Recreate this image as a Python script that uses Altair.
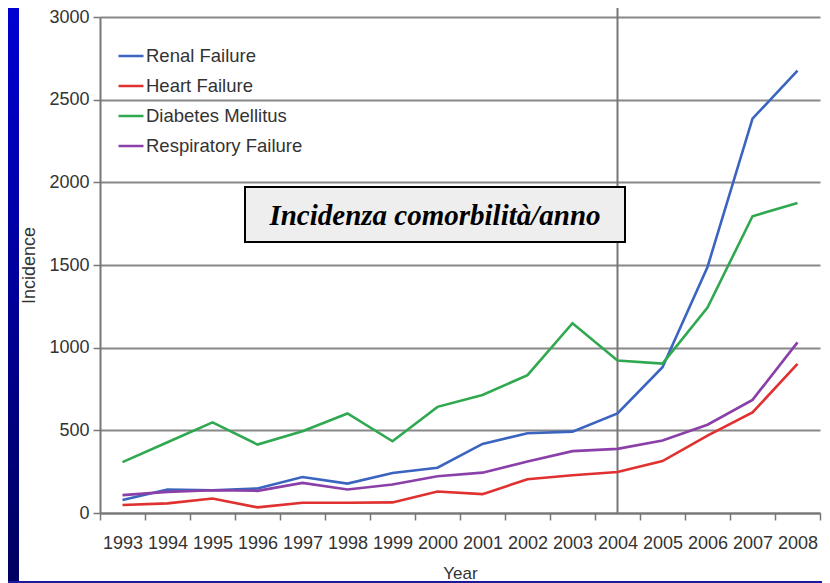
import altair as alt
import pandas as pd

years = list(range(1993, 2009))
series_names = ["Renal Failure", "Heart Failure", "Diabetes Mellitus", "Respiratory Failure"]
series_colors = ["#3a64c0", "#e03030", "#30a850", "#8a40a8"]

renal = [78, 142, 138, 148, 218, 178, 242, 274, 418, 482, 492, 602, 882, 1488, 2385, 2675]
heart = [48, 58, 88, 34, 62, 62, 64, 130, 114, 204, 228, 248, 314, 468, 608, 902]
diabetes = [308, 428, 548, 414, 494, 602, 434, 642, 714, 834, 1148, 922, 904, 1242, 1795, 1875]
respiratory = [108, 128, 138, 134, 182, 142, 172, 222, 244, 312, 374, 388, 438, 534, 684, 1032]

y_ticks = [0, 500, 1000, 1500, 2000, 2500, 3000]
x_tick_values = [y - 0.5 for y in years] + [years[-1] + 0.5]
marker_year = 2004
box_title = "Incidenza comorbilità/anno"

rows = []
for name, vals in zip(series_names, [renal, heart, diabetes, respiratory]):
    for yr, v in zip(years, vals):
        rows.append({"year": yr, "value": v, "series": name})
df = pd.DataFrame(rows)

W, H = 720, 496
TOP = 9
one = pd.DataFrame({"a": [0]})
FONT = "Liberation Sans"

x_scale = alt.Scale(domain=[years[0] - 0.5, years[-1] + 0.5], nice=False, zero=False)
y_scale = alt.Scale(domain=[0, 3000], nice=False)

# blue slide frame (left and bottom strips)
grad = alt.Gradient(
    gradient="linear",
    stops=[alt.GradientStop(color="#0000d2", offset=0), alt.GradientStop(color="#00005e", offset=1)],
    x1=0, x2=0, y1=0, y2=1,
)
left_strip = alt.Chart(one).mark_rect(fill=grad).encode(
    x=alt.value(-92), x2=alt.value(-81), y=alt.value(-TOP), y2=alt.value(575)
)
bottom_strip = alt.Chart(one).mark_rect(fill="#1a1aa0").encode(
    x=alt.value(-92), x2=alt.value(730), y=alt.value(H + 68), y2=alt.value(H + 80)
)

lines = alt.Chart(df).mark_line(strokeWidth=2.6).encode(
    x=alt.X(
        "year:Q",
        scale=x_scale,
        axis=alt.Axis(
            values=x_tick_values,
            labelExpr="datum.value < 2008 ? format(datum.value + 0.5, 'd') : ''",
            labelOffset=22.5,
            labelFlush=False,
            labelOverlap=False,
            labelBound=False,
            grid=False,
            tickSize=7,
            tickWidth=1.5,
            tickColor="#777777",
            domainColor="#777777",
            domainWidth=2,
            labelPadding=14,
            labelFontSize=18,
            labelColor="#333333",
            labelFont=FONT,
            title="Year",
            titleFontSize=17,
            titleFontWeight="normal",
            titleColor="#333333",
            titleFont=FONT,
            titlePadding=13,
        ),
    ),
    y=alt.Y(
        "value:Q",
        scale=y_scale,
        axis=alt.Axis(
            values=y_ticks,
            format="d",
            grid=True,
            gridColor="#888888",
            gridWidth=2,
            tickSize=7,
            tickWidth=1.5,
            tickColor="#777777",
            domainColor="#777777",
            domainWidth=2,
            labelPadding=4,
            labelFontSize=18,
            labelColor="#333333",
            labelFont=FONT,
            title="Incidence",
            titleFontSize=18,
            titleFontWeight="normal",
            titleColor="#333333",
            titleFont=FONT,
            titlePadding=10,
        ),
    ),
    color=alt.Color(
        "series:N",
        scale=alt.Scale(domain=series_names, range=series_colors),
        legend=alt.Legend(
            orient="none",
            legendX=17,
            legendY=25,
            title=None,
            symbolType="stroke",
            symbolSize=625,
            symbolStrokeWidth=2.5,
            labelFontSize=18.5,
            labelColor="#333333",
            labelFont=FONT,
            labelOffset=1,
            rowPadding=6,
            padding=0,
        ),
    ),
)

vrule = alt.Chart(one).mark_rule(color="#777777", strokeWidth=2).encode(
    x=alt.XDatum(marker_year, type="quantitative"), y=alt.value(-TOP), y2=alt.value(H)
)

box = alt.Chart(one).mark_rect(fill="#eeeeee", stroke="#000000", strokeWidth=2).encode(
    x=alt.value(145), x2=alt.value(525), y=alt.value(170), y2=alt.value(225)
)
box_text = alt.Chart(one).mark_text(
    text=box_title, font="Liberation Serif", fontSize=29, fontWeight="bold", fontStyle="italic",
    color="#000000", align="center", baseline="middle",
).encode(x=alt.value(335), y=alt.value(199))

chart = (
    alt.layer(left_strip, bottom_strip, vrule, lines, box, box_text)
    .properties(
        width=W,
        height=H,
        autosize=alt.AutoSizeParams(type="none"),
        padding={"left": 92, "top": TOP, "right": 2, "bottom": 70},
        background="#ffffff",
    )
    .configure_view(stroke=None)
)

chart.save("out.html", embed_options={"renderer": "svg", "actions": False})
